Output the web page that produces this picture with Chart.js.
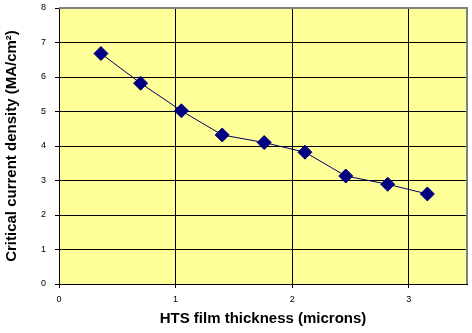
<!DOCTYPE html>
<html>
<head>
<meta charset="utf-8">
<script src="https://cdn.jsdelivr.net/npm/chart.js@4/dist/chart.umd.min.js"></script>
<style>
  html, body { margin: 0; padding: 0; background: #fff; overflow: hidden; }
  #wrap { width: 472px; height: 333px; }
  canvas { display: block; }
</style>
</head>
<body>
<div id="wrap"><canvas id="jcChart" width="472" height="333"></canvas></div>
<script>
// film thickness (microns) and critical current density (MA/cm2)
const thickness = [0.36, 0.70, 1.05, 1.40, 1.76, 2.11, 2.46, 2.82, 3.16];
const density = [6.68, 5.82, 5.02, 4.32, 4.10, 3.82, 3.13, 2.89, 2.61];
const xTicks = [0, 1, 2, 3];
const yTicks = [0, 1, 2, 3, 4, 5, 6, 7, 8];

const points = thickness.map((t, i) => ({ x: t, y: density[i] }));

// yellow plot area + gray frame top/right like the old excel chart
const plotBg = {
  id: "plotBg",
  beforeDraw(chart) {
    const a = chart.chartArea;
    const ctx = chart.ctx;
    ctx.save();
    ctx.fillStyle = "#FFFF99";
    ctx.fillRect(a.left, a.top, a.right - a.left, a.bottom - a.top);
    ctx.restore();
  },
  afterDraw(chart) {
    const a = chart.chartArea;
    const ctx = chart.ctx;
    ctx.save();
    ctx.strokeStyle = "#808080";
    ctx.lineWidth = 2;
    ctx.beginPath();
    ctx.moveTo(a.left, a.top);
    ctx.lineTo(a.right, a.top);
    ctx.lineTo(a.right, a.bottom);
    ctx.stroke();
    ctx.restore();
  }
};

const tickFont = { family: "Arial, 'Liberation Sans', sans-serif", size: 9 };
const titleFont = { family: "Arial, 'Liberation Sans', sans-serif", size: 15, weight: "bold" };

// no extra room for edge labels, layout padding places the plot
function noEdgePad(s) {
  s.paddingTop = 0;
  s.paddingBottom = 0;
  s.paddingLeft = 0;
  s.paddingRight = 0;
}

new Chart(document.getElementById("jcChart").getContext("2d"), {
  type: "scatter",
  data: {
    datasets: [{
      data: points,
      showLine: true,
      borderColor: "#000066",
      borderWidth: 1,
      pointStyle: "rectRot",
      pointRadius: 7,
      pointHoverRadius: 7,
      pointBackgroundColor: "#000080",
      pointBorderColor: "#000080"
    }]
  },
  options: {
    responsive: false,
    animation: false,
    layout: { autoPadding: false, padding: { top: 8, right: 5, bottom: 0, left: 3 } },
    plugins: {
      legend: { display: false },
      tooltip: { enabled: false }
    },
    scales: {
      x: {
        type: "linear",
        min: 0,
        max: 3.5,
        afterFit: s => { s.height = 49; noEdgePad(s); },
        afterBuildTicks: s => { s.ticks = xTicks.map(v => ({ value: v })); },
        ticks: { color: "#000", font: tickFont, padding: 6, maxRotation: 0 },
        grid: { color: "#000", lineWidth: 1, tickLength: 4 },
        border: { color: "#000", width: 1 },
        title: {
          display: true,
          text: "HTS film thickness (microns)",
          color: "#000",
          font: titleFont,
          padding: { top: 0, bottom: 5 }
        }
      },
      y: {
        min: 0,
        max: 8,
        afterFit: s => { s.width = 56; noEdgePad(s); },
        afterBuildTicks: s => { s.ticks = yTicks.map(v => ({ value: v })); },
        ticks: { color: "#000", font: tickFont, padding: 9 },
        grid: { color: "#000", lineWidth: 1, tickLength: 4 },
        border: { color: "#000", width: 1 },
        title: {
          display: true,
          text: "Critical current density (MA/cm²)",
          color: "#000",
          font: titleFont,
          padding: { top: 0, bottom: 4 }
        }
      }
    }
  },
  plugins: [plotBg]
});
</script>
</body>
</html>
